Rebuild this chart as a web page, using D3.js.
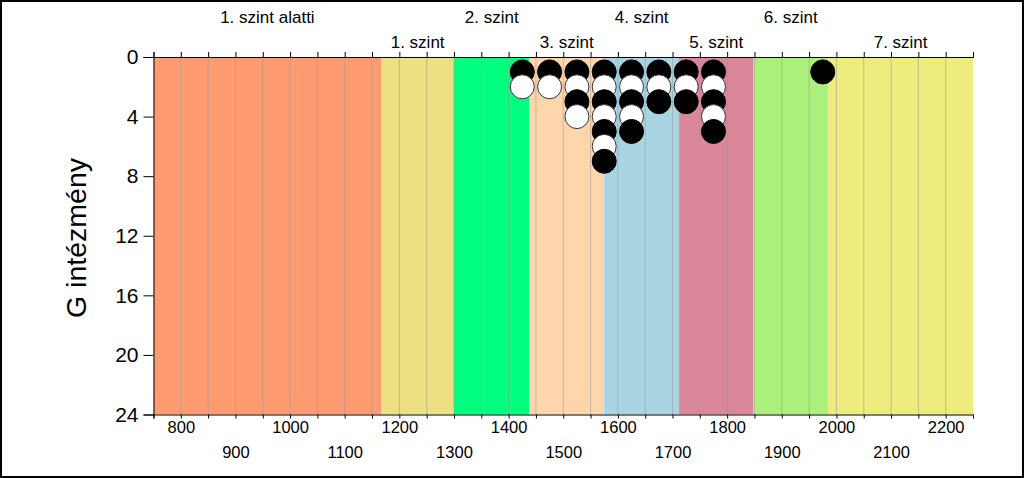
<!DOCTYPE html>
<html>
<head>
<meta charset="utf-8">
<script src="https://cdn.jsdelivr.net/npm/d3@7"></script>
<style>
  html, body { margin: 0; padding: 0; background: #fff; }
  #chart { width: 1024px; height: 478px; }
  text { font-family: "Liberation Sans", Arial, sans-serif; fill: #000; }
  .xlab text { font-size: 16.5px; }
</style>
</head>
<body>
<div id="chart"></div>
<script>
// level bands (score ranges)
const bandNames = ["1. szint alatti", "1. szint", "2. szint", "3. szint", "4. szint", "5. szint", "6. szint", "7. szint"];
const bandStarts = [750, 1167, 1300, 1438, 1575, 1712, 1848, 1985];
const bandEnds = [1167, 1300, 1438, 1575, 1712, 1848, 1985, 2250];
const bandColors = ["#FF9B70", "#ECE182", "#00FF7F", "#FFD5AB", "#A9D5E3", "#D98799", "#AAF07A", "#EDEC7C"];

// institutions per 50-point bin
const binCenters = [1425, 1475, 1525, 1575, 1625, 1675, 1725, 1775, 1975];
const binCounts = [2, 2, 4, 7, 5, 3, 3, 5, 1];

const yTicks = [0, 4, 8, 12, 16, 20, 24];

document.addEventListener("DOMContentLoaded", function () {
  const W = 1024, H = 478;
  const margin = { top: 57, right: 51, bottom: 63.5, left: 153.5 };
  const width = W - margin.left - margin.right;
  const height = H - margin.top - margin.bottom;

  const svg = d3.select("#chart").append("svg")
    .attr("width", W)
    .attr("height", H);

  // outer frame
  svg.append("rect")
    .attr("x", 1).attr("y", 1)
    .attr("width", W - 2).attr("height", H - 2)
    .attr("fill", "none")
    .attr("stroke", "#000")
    .attr("stroke-width", 2);

  const g = svg.append("g").attr("transform", `translate(${margin.left},${margin.top})`);

  const x = d3.scaleLinear().domain([750, 2250]).range([0, width]);
  const y = d3.scaleLinear().domain([0, 24]).range([0, height]);

  // colored bands
  g.selectAll(".band")
    .data(bandNames)
    .enter().append("rect")
    .attr("class", "band")
    .attr("x", (d, i) => x(bandStarts[i]))
    .attr("y", 0)
    .attr("width", (d, i) => x(bandEnds[i]) - x(bandStarts[i]))
    .attr("height", height)
    .attr("fill", (d, i) => bandColors[i]);

  // vertical grid
  g.selectAll(".grid")
    .data(d3.range(800, 2250, 50))
    .enter().append("line")
    .attr("x1", d => x(d)).attr("x2", d => x(d))
    .attr("y1", 0).attr("y2", height)
    .attr("stroke", "#9a9a9a")
    .attr("stroke-opacity", 0.55)
    .attr("stroke-width", 1);

  // band labels above the plot, alternating rows
  g.selectAll(".bandlab")
    .data(bandNames)
    .enter().append("text")
    .attr("x", (d, i) => (x(bandStarts[i]) + x(bandEnds[i])) / 2)
    .attr("y", (d, i) => i % 2 === 0 ? -34.5 : -9.5)
    .attr("text-anchor", "middle")
    .style("font-size", "17px")
    .text(d => d);

  // stacked dots
  const dots = [];
  binCenters.forEach((c, i) => {
    for (let k = 1; k <= binCounts[i]; k++) dots.push({ x: c, k: k });
  });
  g.selectAll(".dot")
    .data(dots)
    .enter().append("circle")
    .attr("cx", d => x(d.x))
    .attr("cy", d => y(d.k))
    .attr("r", 12)
    .attr("fill", d => d.k % 2 === 1 ? "#000" : "#fff")
    .attr("stroke", d => d.k % 2 === 1 ? "#000" : "#333")
    .attr("stroke-width", 1);

  // top axis (ticks only)
  g.append("g")
    .call(d3.axisTop(x).tickValues(d3.range(750, 2251, 50)).tickSize(5).tickFormat(""));

  // bottom axis
  const bottomAxis = g.append("g")
    .attr("class", "xlab")
    .attr("transform", `translate(0,${height})`)
    .call(d3.axisBottom(x)
      .tickValues(d3.range(750, 2251, 50))
      .tickSize(4)
      .tickPadding(2.5)
      .tickFormat(d => d % 100 === 0 ? d : ""));
  bottomAxis.selectAll("text")
    .attr("font-family", null)
    .attr("font-size", null)
    .attr("dy", d => (d / 100) % 2 === 1 ? "2.25em" : "0.71em");

  // left axis
  const leftAxis = g.append("g")
    .call(d3.axisLeft(y).tickValues(yTicks).tickSize(10).tickPadding(5));
  leftAxis.selectAll("text")
    .attr("font-family", null)
    .attr("font-size", null)
    .style("font-size", "21px");

  g.selectAll(".domain").attr("stroke", "#000");
  g.selectAll(".tick line").attr("stroke", "#000");

  // y axis title
  svg.append("text")
    .attr("transform", `translate(86,238) rotate(-90)`)
    .attr("text-anchor", "middle")
    .style("font-size", "28.5px")
    .text("G intézmény");
});
</script>
</body>
</html>
